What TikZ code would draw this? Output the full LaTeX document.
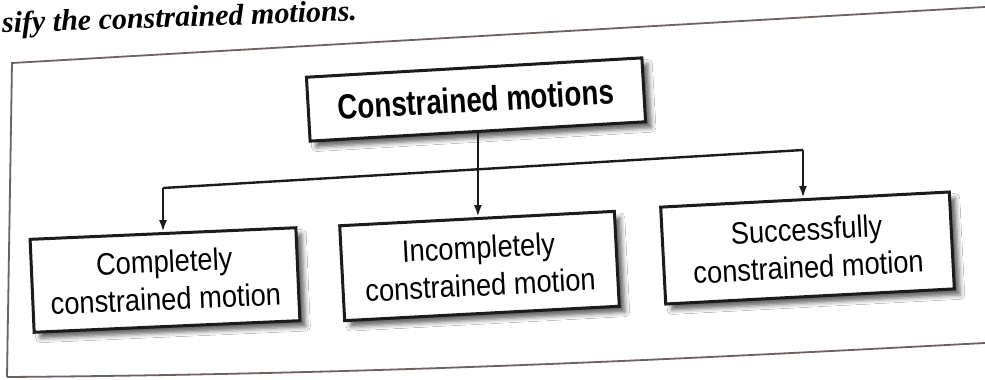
\documentclass[tikz,border=0pt]{standalone}
\usepackage{fontspec}
\setmainfont{Liberation Serif}
\newfontfamily\boxfont[FakeStretch=0.88]{Liberation Sans}
\newfontfamily\boxbold[FakeStretch=0.79]{Liberation Sans Bold}
\usetikzlibrary{arrows.meta,shadows.blur}
\definecolor{ink}{HTML}{1C1A1A}
\definecolor{framec}{HTML}{6E625E}
\tikzset{
  box/.style={draw=ink, line width=1.5pt, fill=white, inner sep=0pt, align=center,
    font=\boxfont\fontsize{15.5}{18.8}\selectfont,
    blur shadow={shadow xshift=3pt, shadow yshift=-3pt, shadow blur radius=2.2pt, shadow opacity=60}},
  topbox/.style={box, font=\boxbold\fontsize{17.5}{20}\selectfont},
  conn/.style={draw=ink, line width=1.2pt},
  arr/.style={conn, -{Latex[length=6pt,width=4pt]}},
  framel/.style={draw=framec, line width=0.9pt},
}
\begin{document}
\begin{tikzpicture}[x=0.5pt,y=-0.5pt]
\useasboundingbox[fill=white] (0,0) rectangle (985,380);
% title
\node[font=\bfseries\itshape\fontsize{15}{18}\selectfont, anchor=base west, rotate=2, inner sep=0pt] (title) at (2,33) {sify the constrained motions.};
% frame
\coordinate (ftr) at (985,7);
\coordinate (ftl) at (12,63);
\coordinate (fbl) at (7,377);
\coordinate (fbr) at (985,343);
\draw[framel] (ftr) -- (ftl) -- (fbl);
\draw[framel] (fbl) .. controls (400,374) and (700,358) .. (fbr);
% boxes
\node[topbox, rotate=3.3, minimum width=168pt, minimum height=32pt] (top) at (476,99.5) {Constrained motions};
\node[box, rotate=2.5, minimum width=133pt, minimum height=46.5pt] (left) at (165,280) {Completely\\constrained motion};
\node[box, rotate=3, minimum width=137.5pt, minimum height=47.5pt] (mid) at (479.5,266) {Incompletely\\constrained motion};
\node[box, rotate=3, minimum width=144.5pt, minimum height=48.5pt] (right) at (807.5,248) {Successfully\\constrained motion};
% connectors
\coordinate (bl) at (163,188);
\coordinate (br) at (803,150);
\draw[conn] (bl) -- (br);
\draw[arr] (bl) -- (bl |- left.north);
\draw[arr] (br) -- (br |- right.north);
\draw[arr] (top.south) -- (top.south |- mid.north);
\end{tikzpicture}
\end{document}
